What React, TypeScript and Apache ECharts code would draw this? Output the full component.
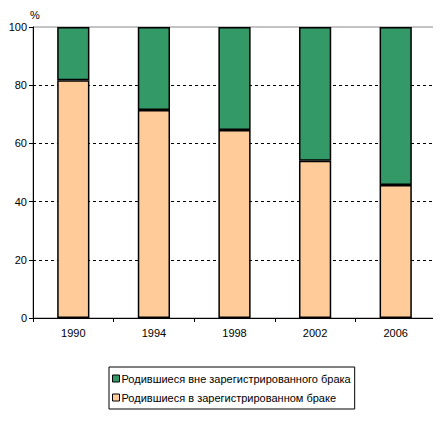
import React, { useEffect, useRef } from "react";
import * as echarts from "echarts";

const years = ["1990", "1994", "1998", "2002", "2006"];
const inMarriage = [81.7, 71.5, 64.6, 54.0, 45.7];
const outOfMarriage = [18.3, 28.5, 35.4, 46.0, 54.3];
const nameOut = "Родившиеся вне зарегистрированного брака";
const nameIn = "Родившиеся в зарегистрированном браке";

const FONT = "Liberation Sans, Arial, sans-serif";

export default function App() {
  const ref = useRef<HTMLDivElement>(null);
  useEffect(() => {
    if (!ref.current) return;
    const chart = echarts.init(ref.current, undefined, { renderer: "svg" });
    chart.setOption({
      animation: false,
      backgroundColor: "#fff",
      textStyle: { fontFamily: FONT },
      grid: {
        left: 33,
        right: 5,
        top: 27,
        bottom: 108,
        show: true,
        borderColor: "#888",
        borderWidth: 1,
      },
      graphic: [
        {
          type: "text",
          left: 30,
          top: 9,
          style: { text: "%", fontSize: 11, fontFamily: FONT, fill: "#000" },
        },
      ],
      legend: {
        orient: "vertical",
        left: 109,
        top: 367,
        data: [nameOut, nameIn],
        icon: "rect",
        itemWidth: 7,
        itemHeight: 7,
        itemGap: 8,
        padding: [6, 4, 6, 3],
        borderColor: "#000",
        borderWidth: 1,
        borderRadius: 0,
        textStyle: { fontSize: 11, fontFamily: FONT, color: "#000", padding: [0, 0, 0, -3] },
        itemStyle: { borderColor: "#000", borderWidth: 1 },
      },
      xAxis: {
        type: "category",
        data: years,
        axisLine: { lineStyle: { color: "#000", width: 1 } },
        axisTick: { show: true, length: 4, lineStyle: { color: "#000" } },
        axisLabel: { color: "#000", fontSize: 11, fontFamily: FONT, margin: 9 },
      },
      yAxis: {
        type: "value",
        min: 0,
        max: 100,
        interval: 20,
        axisLine: { show: true, lineStyle: { color: "#000", width: 1 } },
        axisTick: { show: true, length: 4, lineStyle: { color: "#000" } },
        axisLabel: { color: "#000", fontSize: 11, fontFamily: FONT, margin: 6 },
        splitLine: {
          show: true,
          lineStyle: {
            type: [3, 3],
            color: ["#000", "#000", "#000", "#000", "#000", "rgba(0,0,0,0)"],
            width: 1,
          },
        },
      },
      series: [
        {
          name: nameIn,
          type: "bar",
          stack: "total",
          data: inMarriage,
          barWidth: "40%",
          itemStyle: { color: "#FFCC99", borderColor: "#000", borderWidth: 1.5 },
        },
        {
          name: nameOut,
          type: "bar",
          stack: "total",
          data: outOfMarriage,
          barWidth: "40%",
          itemStyle: { color: "#339966", borderColor: "#000", borderWidth: 1.5 },
        },
      ],
    });
    return () => chart.dispose();
  }, []);
  return <div ref={ref} style={{ width: 441, height: 426, margin: -8 }} />;
}
